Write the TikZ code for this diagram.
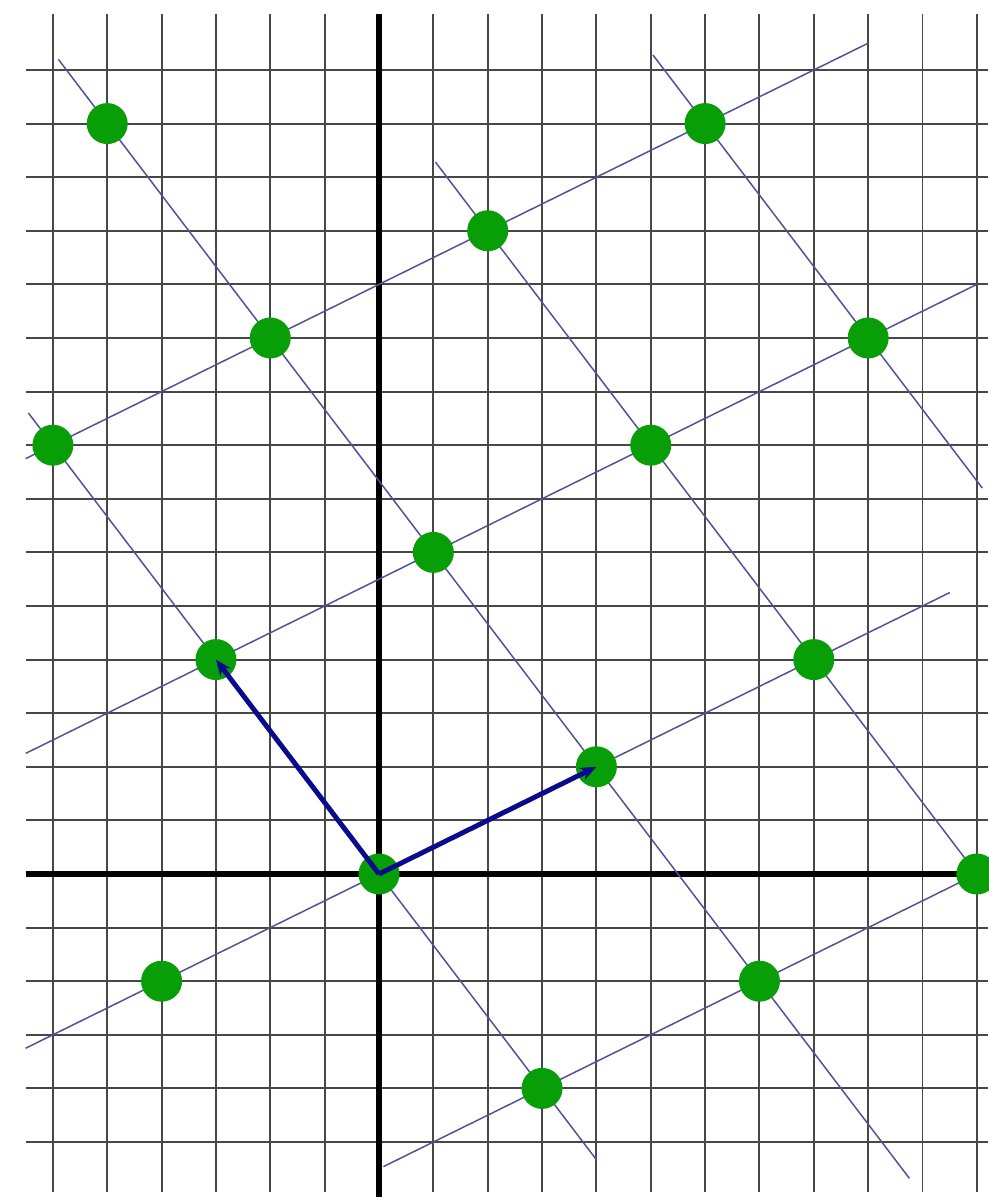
\documentclass[tikz,border=0pt]{standalone}
\usetikzlibrary{arrows.meta}
\definecolor{dotgreen}{RGB}{8,158,8}
\definecolor{latline}{RGB}{80,80,150}
\definecolor{vecblue}{RGB}{10,10,140}
\tikzset{
  gridline/.style={draw=black!72, line width=0.55pt},
  axisline/.style={draw=black, line width=1.7pt},
  latticeline/.style={draw=latline, line width=0.42pt},
  latdot/.style={circle, fill=dotgreen, draw=none, minimum size=0.41cm, inner sep=0pt},
  vec/.style={draw=vecblue, line width=1.4pt, -{Stealth[length=0.16cm, width=0.13cm]}}
}
\begin{document}
\begin{tikzpicture}[x=0.5435cm, y=0.536cm]
\useasboundingbox (-6.973,-6.026) rectangle (11.205,16.306);
% grid
\foreach \i in {-6,...,11} \draw[gridline] (\i,-5.93) -- (\i,16.04);
\foreach \j in {-5,...,15} \draw[gridline] (-6.5,\j) -- (11.21,\j);
% axes
\draw[axisline] (-6.5,0) -- (11.21,0);
\draw[axisline] (0,-6.03) -- (0,16.04);
% lattice lines along a = (4,2)
\draw[latticeline] (-6.5,7.75) -- (9,15.5);
\draw[latticeline] (-6.5,2.25) -- (11,11);
\draw[latticeline] (-6.5,-3.25) -- (10.5,5.25);
\draw[latticeline] (0.08,-5.46) -- (11,0);
% lattice lines along b = (-3,4)
\draw[latticeline] (-6.45,8.6) -- (4,-5.33);
\draw[latticeline] (-5.9,15.2) -- (9.76,-5.68);
\draw[latticeline] (1.04,13.28) -- (11,0);
\draw[latticeline] (5.04,15.28) -- (11.1,7.2);
% lattice points
\node[latdot] (o) at (0,0) {};
\node[latdot] (pa) at (4,2) {};
\node[latdot] (pb) at (-3,4) {};
\node[latdot] (p1) at (-5,14) {};
\node[latdot] (p2) at (6,14) {};
\node[latdot] (p3) at (2,12) {};
\node[latdot] (p4) at (-2,10) {};
\node[latdot] (p5) at (9,10) {};
\node[latdot] (p6) at (-6,8) {};
\node[latdot] (p7) at (5,8) {};
\node[latdot] (p8) at (1,6) {};
\node[latdot] (p9) at (8,4) {};
\node[latdot] (p10) at (11,0) {};
\node[latdot] (p11) at (-4,-2) {};
\node[latdot] (p12) at (7,-2) {};
\node[latdot] (p13) at (3,-4) {};
% basis vectors
\draw[vec] (o.center) -- (pa.center);
\draw[vec] (o.center) -- (pb.center);
\end{tikzpicture}
\end{document}
